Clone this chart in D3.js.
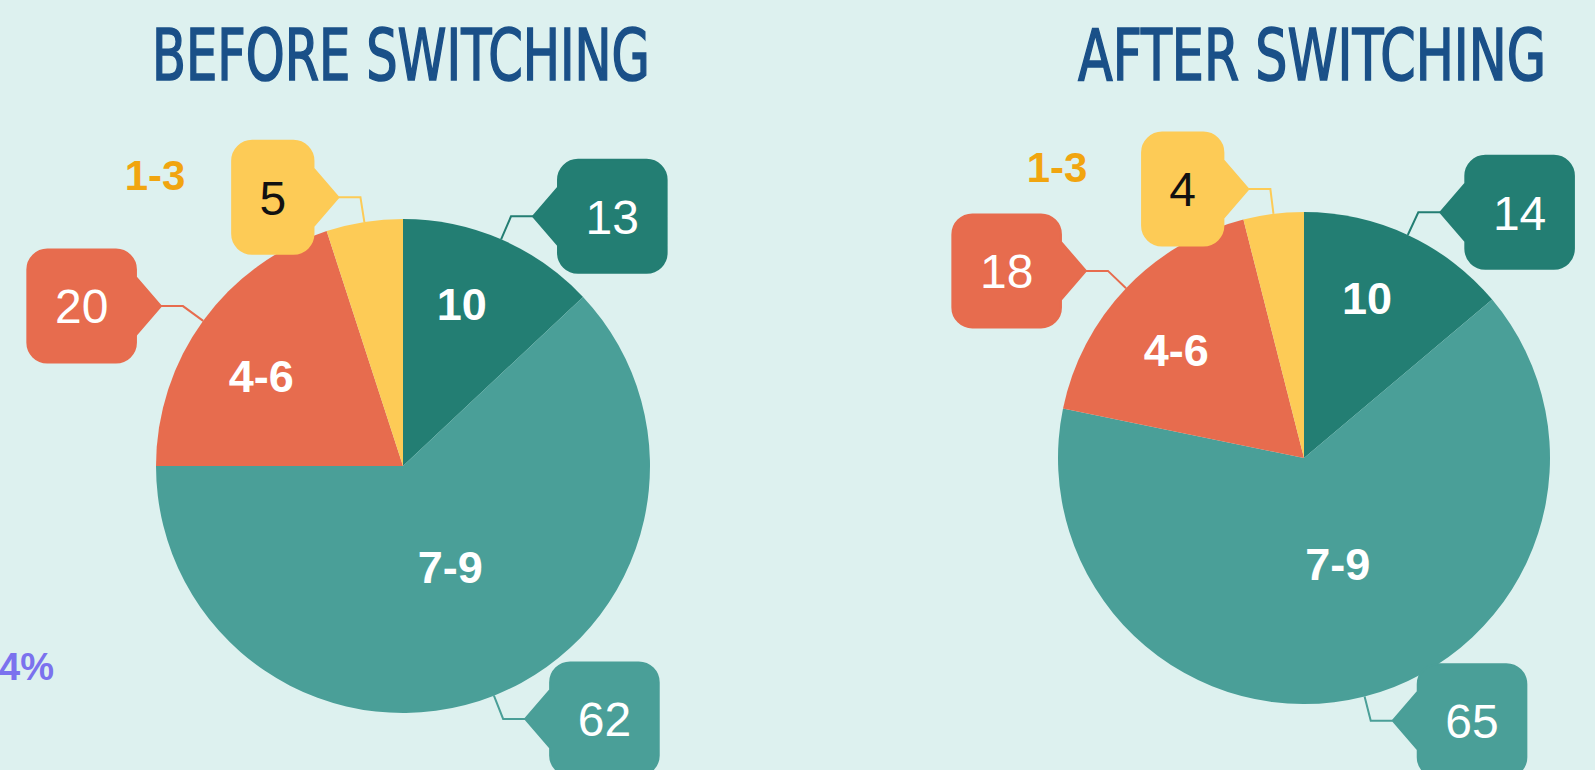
<!DOCTYPE html>
<html>
<head>
<meta charset="utf-8">
<script src="https://cdn.jsdelivr.net/npm/d3@7"></script>
<style>
html, body { margin: 0; padding: 0; background: #ddf1ef; overflow: hidden; }
svg { display: block; }
</style>
</head>
<body>
<svg></svg>
<script>
// data
var categories = ["10", "7-9", "4-6", "1-3"];
var beforeValues = [13, 62, 20, 5];
var afterValues = [14, 65, 18, 4];
var titles = ["BEFORE SWITCHING", "AFTER SWITCHING"];
var sideNote = "4%";

var width = 1595, height = 770;

var color = d3.scaleOrdinal()
    .domain(categories)
    .range(["#237e73", "#4a9f98", "#e76c4e", "#fdcb56"]);
var calloutText = {"10": "#fff", "7-9": "#fff", "4-6": "#fff", "1-3": "#111"};

// inner label radius (fraction of r)
var innerK = {"10": 0.70, "7-9": 0.45, "4-6": 0.68};
var labelShift = -3.5 * Math.PI / 180;

var svg = d3.select("svg")
    .attr("width", width)
    .attr("height", height);

svg.append("rect")
    .attr("width", width)
    .attr("height", height)
    .attr("fill", "#ddf1ef");

var charts = [
    {title: titles[0], values: beforeValues, cx: 403, cy: 466, r: 247, tx: 401, tw: 498},
    {title: titles[1], values: afterValues, cx: 1304, cy: 458, r: 246, tx: 1312, tw: 468}
];

var pie = d3.pie().sort(null).value(function(d) { return d.value; });

// callout box with pointer, tip at (0,0); side 1 = box right of the tip, -1 = left
function calloutPath(w, h, side) {
    var tipLen = 25, half = 29, rr = 20;
    var p = d3.path();
    var x0 = tipLen, x1 = tipLen + w, y0 = -h / 2, y1 = h / 2;
    p.moveTo(0, 0);
    p.lineTo(x0, -half);
    p.lineTo(x0, y0 + rr);
    p.arcTo(x0, y0, x0 + rr, y0, rr);
    p.lineTo(x1 - rr, y0);
    p.arcTo(x1, y0, x1, y0 + rr, rr);
    p.lineTo(x1, y1 - rr);
    p.arcTo(x1, y1, x1 - rr, y1, rr);
    p.lineTo(x0 + rr, y1);
    p.arcTo(x0, y1, x0, y1 - rr, rr);
    p.lineTo(x0, half);
    p.closePath();
    return {d: p.toString(), transform: side < 0 ? "scale(-1,1)" : null, cx: side * (x0 + w / 2)};
}

charts.forEach(function(c) {
    var data = categories.map(function(k, i) { return {key: k, value: c.values[i]}; });
    var arcs = pie(data);

    // title (condensed: smaller font stretched vertically)
    svg.append("text")
        .attr("transform", "translate(" + c.tx + ",80) scale(1," + (72 / 58) + ")")
        .attr("text-anchor", "middle")
        .attr("textLength", c.tw)
        .attr("lengthAdjust", "spacingAndGlyphs")
        .style("font-family", "'DejaVu Sans Condensed', 'Liberation Sans Narrow', sans-serif")
        .style("font-size", "58px")
        .style("font-weight", "normal")
        .style("fill", "#1a5088")
        .style("stroke", "#1a5088")
        .style("stroke-width", "1.3px")
        .text(c.title);

    var g = svg.append("g")
        .attr("transform", "translate(" + c.cx + "," + c.cy + ")");

    var arc = d3.arc().innerRadius(0).outerRadius(c.r);

    g.selectAll("path.slice")
        .data(arcs)
        .join("path")
        .attr("class", "slice")
        .attr("d", arc)
        .attr("fill", function(d) { return color(d.data.key); });

    // inner labels
    g.selectAll("text.inner")
        .data(arcs.filter(function(d) { return innerK[d.data.key]; }))
        .join("text")
        .attr("class", "inner")
        .attr("x", function(d) {
            var a = (d.startAngle + d.endAngle) / 2 + labelShift;
            return Math.sin(a) * c.r * innerK[d.data.key];
        })
        .attr("y", function(d) {
            var a = (d.startAngle + d.endAngle) / 2 + labelShift;
            return -Math.cos(a) * c.r * innerK[d.data.key];
        })
        .attr("text-anchor", "middle")
        .attr("dy", "0.36em")
        .style("font-family", "'Liberation Sans', Arial, sans-serif")
        .style("font-size", "45px")
        .style("font-weight", "bold")
        .style("fill", "#fff")
        .text(function(d) { return d.data.key; });

    // outside category label for the small slice
    g.append("text")
        .attr("x", -c.r - 1)
        .attr("y", -291)
        .attr("text-anchor", "middle")
        .attr("dy", "0.36em")
        .style("font-family", "'Liberation Sans', Arial, sans-serif")
        .style("font-size", "42px")
        .style("font-weight", "bold")
        .style("fill", "#f1a50f")
        .text(categories[3]);

    // callouts with connectors
    var bendR = c.r + 25, run = 22;
    arcs.forEach(function(d) {
        var a = (d.startAngle + d.endAngle) / 2;
        var ex = Math.sin(a) * c.r, ey = -Math.cos(a) * c.r;
        var bx = Math.sin(a) * bendR, by = -Math.cos(a) * bendR;
        var side = bx >= 0 ? 1 : -1;
        var tx = bx + side * run;
        var col = color(d.data.key);

        g.append("path")
            .attr("d", d3.line()([[ex, ey], [bx, by], [tx, by]]))
            .attr("fill", "none")
            .attr("stroke", col)
            .attr("stroke-width", 2);

        var label = String(d.data.value);
        var w = label.length * 27.3 + 54;
        var shape = calloutPath(w, 113, side);
        var lg = g.append("g").attr("transform", "translate(" + tx + "," + by + ")");
        lg.append("path")
            .attr("d", shape.d)
            .attr("transform", shape.transform)
            .attr("fill", col)
            .attr("stroke", col)
            .attr("stroke-width", 2)
            .attr("stroke-linejoin", "round");
        lg.append("text")
            .attr("x", shape.cx)
            .attr("dy", "0.36em")
            .attr("text-anchor", "middle")
            .style("font-family", "'Liberation Sans', Arial, sans-serif")
            .style("font-size", "48px")
            .style("fill", calloutText[d.data.key])
            .text(label);
    });
});

// cut-off side note at the left edge
svg.append("text")
    .attr("x", 54)
    .attr("y", 680)
    .attr("text-anchor", "end")
    .style("font-family", "'Liberation Sans', Arial, sans-serif")
    .style("font-size", "38px")
    .style("font-weight", "bold")
    .style("fill", "#7b72ee")
    .text(sideNote);
</script>
</body>
</html>
